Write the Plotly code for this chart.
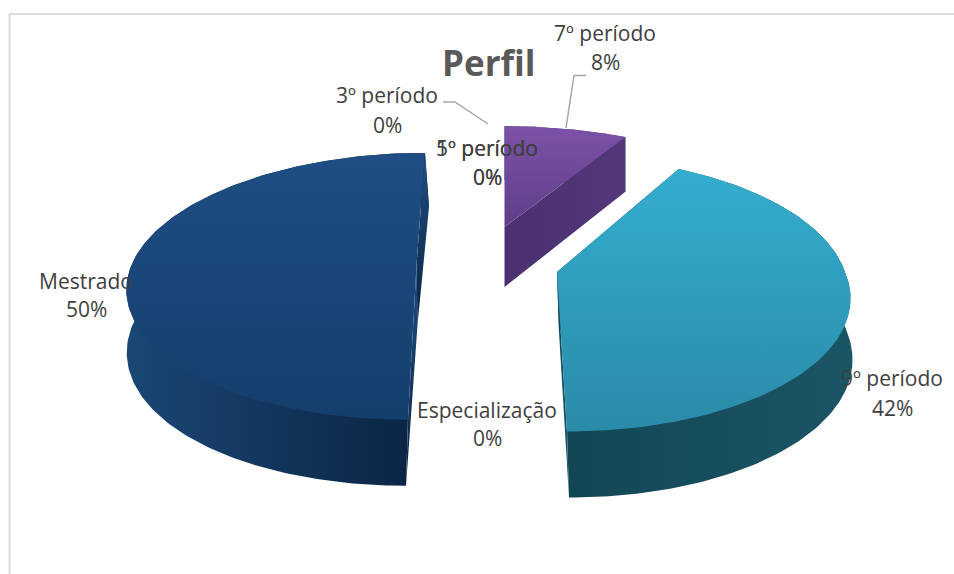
import numpy as np
import plotly.graph_objects as go

# ---- data
categories = ["1º período", "3º período", "5º período", "7º período", "9º período", "Especialização", "Mestrado"]
percent = [0, 0, 0, 8, 42, 0, 50]
title_text = "Perfil"

# ---- label centres (name line, value line)
label_x = [487, 387, 487, 605, 892, 487, 86]
label_name_y = [148, 95, 148, 33, 378, 410, 281]
label_value_y = [177, 125, 177, 62, 408, 438, 309]

# ---- 3D look of each drawn slice
PERSP = 0.16
geom = {
    "7º período": dict(cx=504.5, cy=227, R=286, Rs=117, s=0, dx0=0, dxv=0,
                       top=["#5F3E88", "#7C52A8"], side=["#4A3070", "#523878"],
                       cut=["#4A3070", "#523878"], cut_kind="horizontal"),
    "9º período": dict(cx=557, cy=272, R=288, Rs=134, s=10, dx0=2, dxv=0,
                       top=["#2A8BA8", "#34ADCF"], side=["#134655", "#1A5566"],
                       cut=["#134655", "#1A5566"], cut_kind="horizontal"),
    "Mestrado": dict(cx=416.5, cy=265, R=285, Rs=130, s=-8.5, dx0=1, dxv=-3,
                     top=["#143E6C", "#1F4E84"], side=["#1A4775", "#0A2341"],
                     cut=["#0A2341", "#1F4E84"], cut_kind="vertical"),
}


def project(g, theta, bottom=False):
    u, v = np.sin(theta), -np.cos(theta)
    w = 1 - PERSP * v
    # Mestrado's cut edge leans over its full length, the others only in front of the apex
    lean = v if g["s"] < 0 else np.clip(v, 0, None)
    x = g["cx"] + g["R"] * u / w + g["s"] * lean
    y = g["cy"] + g["Rs"] * v / w
    if bottom:
        x = x + g["dx0"] + g["dxv"] * v
        y = y + 60 + 6 * v
    return x, y


def poly(xs, ys, colors, kind, name):
    return go.Scatter(
        x=list(xs) + [xs[0]], y=list(ys) + [ys[0]], mode="lines", fill="toself",
        line=dict(width=0), hoverinfo="skip", name=name, showlegend=False,
        fillgradient=dict(type=kind, colorscale=[[0, colors[0]], [1, colors[1]]]),
    )


fig = go.Figure()
cum = np.cumsum([0] + percent)
for i, cat in enumerate(categories):
    if percent[i] == 0:
        continue
    g = geom[cat]
    a0, a1 = cum[i] / 100 * 2 * np.pi, cum[i + 1] / 100 * 2 * np.pi
    th = np.linspace(a0, a1, 160)
    tx, ty = project(g, th)
    bx, by = project(g, th, True)
    # outer wall, tucked slightly under the front of the top face
    under = 3 * np.clip(-np.cos(th), 0, None)
    fig.add_trace(poly(np.r_[tx, bx[::-1]], np.r_[ty - under, by[::-1]], g["side"], "horizontal", cat))
    # radial cut faces
    ax, ay = g["cx"], g["cy"]
    for a in (a0, a1):
        p, q = project(g, np.array([a])), project(g, np.array([a]), True)
        fig.add_trace(poly([ax, p[0][0], q[0][0], ax + g["dx0"]], [ay, p[1][0], q[1][0], ay + 60],
                           g["cut"], g["cut_kind"], cat))
    # top face
    fig.add_trace(poly(np.r_[ax, tx], np.r_[ay, ty], g["top"], "vertical", cat))

# leader lines
fig.add_trace(go.Scatter(x=[443, 455, 488], y=[102, 102, 124], mode="lines",
                         line=dict(color="#A6A6A6", width=1.5), hoverinfo="skip", showlegend=False))
fig.add_trace(go.Scatter(x=[586, 574, 566], y=[75.5, 75.5, 128], mode="lines",
                         line=dict(color="#A6A6A6", width=1.5), hoverinfo="skip", showlegend=False))

annotations = []
for i, cat in enumerate(categories):
    for text, y in ((cat, label_name_y[i]), (f"{percent[i]}%", label_value_y[i])):
        annotations.append(dict(x=label_x[i], y=y, xref="x", yref="y", text=text, showarrow=False,
                                font=dict(family="Open Sans", size=21, color="#404040")))
annotations.append(dict(x=488, y=62, xref="x", yref="y", text=f"<b>{title_text}</b>", showarrow=False,
                        font=dict(family="Open Sans", size=35, color="#595959")))

fig.update_layout(
    width=954, height=574, margin=dict(l=0, r=0, t=0, b=0), autosize=False,
    paper_bgcolor="white", plot_bgcolor="white", showlegend=False,
    xaxis=dict(range=[0, 954], visible=False, fixedrange=True),
    yaxis=dict(range=[574, 0], visible=False, fixedrange=True),
    annotations=annotations,
    shapes=[
        dict(type="line", x0=9, x1=954, y0=14, y1=14, xref="x", yref="y", line=dict(color="#DCDCDC", width=2)),
        dict(type="line", x0=9.5, x1=9.5, y0=14, y1=574, xref="x", yref="y", line=dict(color="#DCDCDC", width=2)),
    ],
)
fig.write_html("out.html", config={"displayModeBar": False},
               post_script="document.body.style.margin='0';document.documentElement.style.overflow='hidden';")
